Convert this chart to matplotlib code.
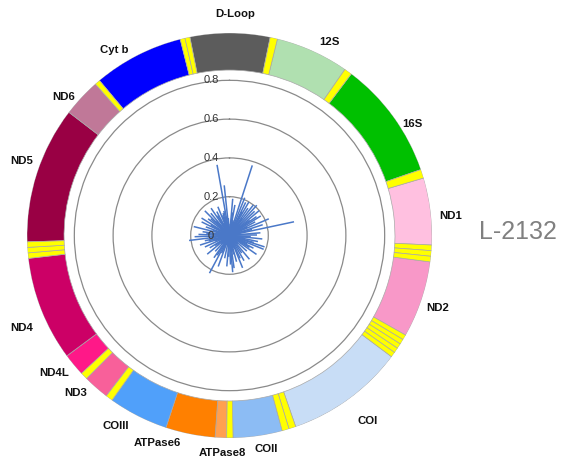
import numpy as np
import matplotlib.pyplot as plt

plt.rcParams['font.family'] = ['Liberation Sans', 'DejaVu Sans']

# genome map, degrees clockwise from the top
genes = ['D-Loop', '12S', '16S', 'ND1', 'ND2', 'COI', 'COII', 'ATPase8',
         'ATPase6', 'COIII', 'ND3', 'ND4L', 'ND4', 'ND5', 'ND6', 'Cyt b']
gene_start = [-11.3, 13.7, 37.0, 73.5, 97.5, 126.8, 164.9, 180.8,
              184.1, 198.3, 217.5, 227.0, 233.5, 268.2, 307.5, 320.0]
gene_end = [11.6, 34.8, 71.0, 92.7, 119.5, 160.9, 179.0, 184.1,
            198.3, 215.5, 225.0, 233.5, 263.5, 307.5, 318.5, 345.9]
gene_colors = ['#5c5c5c', '#b0e0b0', '#00c000', '#ffc0e0', '#f898c8',
               '#c8ddf6', '#8cbcf4', '#ffa050', '#ff8000', '#50a0fa',
               '#f8609a', '#ff1888', '#cc0066', '#990044', '#c07898', '#0000ff']

# tRNA blocks between genes: start, end, number of tRNAs
trna_start = [11.6, 34.8, 71.0, 92.7, 119.5, 160.9, 179.0, 215.5, 225.0, 263.5, 318.5, 345.9]
trna_end = [13.7, 37.0, 73.5, 97.5, 126.8, 164.9, 180.8, 217.5, 227.0, 268.2, 320.0, 348.7]
trna_count = [1, 1, 1, 3, 5, 2, 1, 1, 1, 3, 1, 2]

# radial lines (angle in degrees clockwise from top, length)
line_angle = [350, 18, 78, 354, 263, 208, 67,
              5, 10, 22, 26, 30, 34, 38, 42, 46, 50, 55, 58, 62, 72, 85, 90,
              96, 102, 108, 112, 118, 125, 132, 140, 150, 158, 165, 172, 178,
              185, 192, 200, 215, 222, 230, 238, 245, 252, 258, 268, 272, 278,
              284, 290, 296, 302, 308, 315, 320, 326, 332, 338, 344,
              3, 14, 48, 80, 100, 135, 160, 195, 225, 250, 280, 310, 335, 356,
              8, 28, 36, 53, 64, 75, 93, 106, 115, 121, 145, 155, 168, 175,
              182, 204, 212, 235, 256, 266, 275, 287, 299, 312, 318, 329, 341, 347]
line_length = [0.37, 0.38, 0.34, 0.26, 0.21, 0.22, 0.22,
               0.19, 0.16, 0.21, 0.19, 0.20, 0.17, 0.20, 0.21, 0.18, 0.20, 0.17, 0.19, 0.15, 0.18, 0.16, 0.14,
               0.17, 0.15, 0.19, 0.19, 0.14, 0.17, 0.12, 0.16, 0.15, 0.18, 0.14, 0.17, 0.15,
               0.16, 0.12, 0.17, 0.14, 0.11, 0.15, 0.12, 0.14, 0.16, 0.13, 0.18, 0.16, 0.14,
               0.19, 0.13, 0.16, 0.17, 0.14, 0.18, 0.15, 0.17, 0.14, 0.16, 0.12,
               0.06, 0.08, 0.07, 0.05, 0.08, 0.06, 0.07, 0.05, 0.06, 0.08, 0.06, 0.05, 0.07, 0.09,
               0.12, 0.14, 0.11, 0.13, 0.10, 0.12, 0.11, 0.13, 0.10, 0.12, 0.11, 0.13, 0.10, 0.19,
               0.11, 0.10, 0.12, 0.09, 0.11, 0.10, 0.12, 0.09, 0.11, 0.13, 0.10, 0.12, 0.11, 0.13]

r_ticks = [0, 0.2, 0.4, 0.6, 0.8]
sample = 'L-2132'

# label positions in pixels (x, y from top)
label_xy = {'D-Loop': (235, 14), '12S': (330, 42), '16S': (412, 124),
            'ND1': (451, 216), 'ND2': (438, 308), 'COI': (368, 421),
            'COII': (266, 449), 'ATPase8': (222, 453), 'ATPase6': (157, 443),
            'COIII': (116, 426), 'ND3': (76, 393), 'ND4L': (54, 373),
            'ND4': (22, 328), 'ND5': (22, 161), 'ND6': (64, 97), 'Cyt b': (114, 50)}

W, H = 570, 461
fig = plt.figure(figsize=(W / 100, H / 100), dpi=100)
R = 1.044
ring_in = 0.853
ax = fig.add_axes([27 / W, 23 / H, 405 / W, 405 / H], projection='polar')
ax.set_theta_zero_location('N')
ax.set_theta_direction(-1)
ax.set_ylim(0, R)

# ring of genes
st = np.radians(gene_start)
wd = np.radians(np.array(gene_end) - np.array(gene_start))
ax.bar(st, R - ring_in, width=wd, bottom=ring_in, align='edge',
       color=gene_colors, edgecolor='#a8a8a8', linewidth=0.5)

# tRNAs as yellow stripes
for s, e, n in zip(trna_start, trna_end, trna_count):
    edges = np.linspace(s, e, n + 1)
    ax.bar(np.radians(edges[:-1]), R - ring_in, width=np.radians(np.diff(edges)),
           bottom=ring_in, align='edge', color='#ffff00', edgecolor='#a8a8a8',
           linewidth=0.5)

# radial lines
ax.vlines(np.radians(line_angle), 0, line_length, color='#4a78c8', linewidth=1.1)

# grid circles
ax.set_rgrids([0.2, 0.4, 0.6, 0.8], labels=[''] * 4)
ax.set_thetagrids([])
ax.grid(True, color='#8a8a8a', linewidth=0.9)
ax.spines['polar'].set_visible(False)
ax.set_xticklabels([])

for r in r_ticks:
    x = -0.095
    ax.text(np.arctan2(x, r), np.hypot(x, r), f'{r:g}', ha='center', va='center',
            fontsize=8, color='#333333')

for g in genes:
    px, py = label_xy[g]
    fig.text(px / W, 1 - py / H, g, ha='center', va='center', fontsize=8.2,
             fontweight='bold', color='#111111')

fig.text(518 / W, 1 - 232 / H, sample, ha='center', va='center', fontsize=18,
         color='#808080')

fig.savefig('out.png', dpi=100)
